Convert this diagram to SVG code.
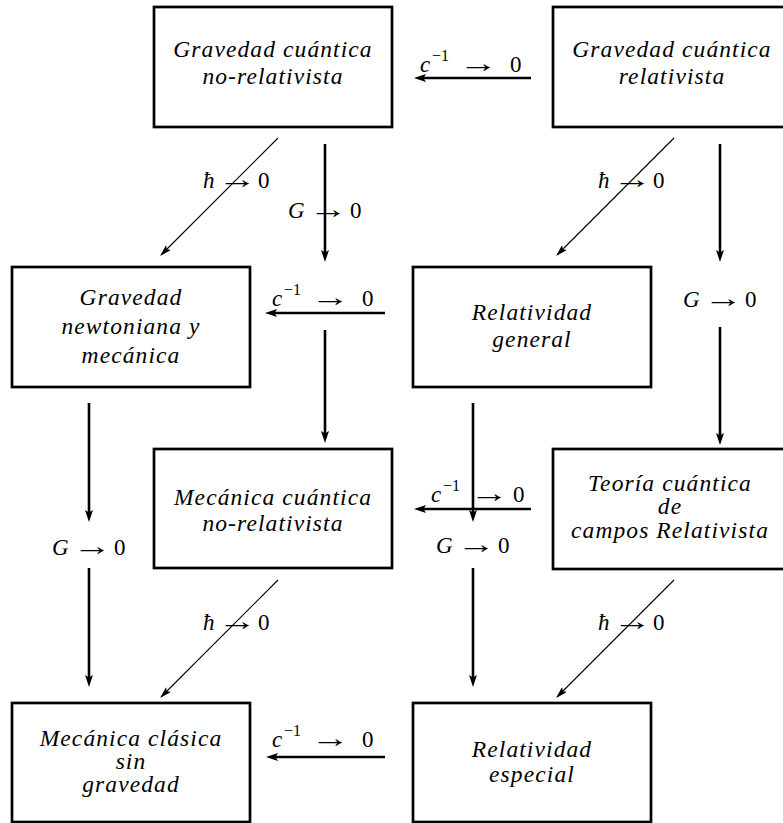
<svg xmlns="http://www.w3.org/2000/svg" width="783" height="823" viewBox="0 0 783 823">
<style>
.box{fill:#fff;stroke:#000;stroke-width:2.7}
.nt{font-family:'Liberation Serif';font-style:italic;font-size:23.5px;letter-spacing:1.1px;text-anchor:middle;fill:#000}
.m{font-family:'Liberation Serif';font-size:23px;fill:#000}
.mi{font-style:italic}
.sup{font-size:16px}
.ar{font-size:26px}
.thick{stroke:#000;stroke-width:2.6;fill:none;marker-end:url(#ah)}
.thin{stroke:#000;stroke-width:1.1;fill:none;marker-end:url(#ahs)}
</style>
<defs>
<marker id="ah" viewBox="0 0 12 8" refX="6" refY="4" markerWidth="12" markerHeight="8" markerUnits="userSpaceOnUse" orient="auto">
<path d="M0,0 L12,4 L0,8 L2.5,4 Z" fill="#000"/>
</marker>
<marker id="ahs" viewBox="0 0 12 7" refX="10" refY="3.5" markerWidth="12" markerHeight="7" markerUnits="userSpaceOnUse" orient="auto">
<path d="M0,0 L12,3.5 L0,7 L2.5,3.5 Z" fill="#000"/>
</marker>
</defs>
<rect width="783" height="823" fill="#fff"/>

<g font-family="'Liberation Serif'">
<g id="n1"><rect class="box" x="154" y="7" width="238" height="120"/>
<text class="nt" x="273" y="57" font-family="'Liberation Serif'">Gravedad cuántica</text>
<text class="nt" x="273" y="84" font-family="'Liberation Serif'">no-relativista</text></g>

<g id="n2"><rect class="box" x="553" y="7" width="238" height="120"/>
<text class="nt" x="672" y="57" font-family="'Liberation Serif'">Gravedad cuántica</text>
<text class="nt" x="672" y="84" font-family="'Liberation Serif'">relativista</text></g>

<g id="n3"><rect class="box" x="12" y="267" width="238" height="120"/>
<text class="nt" x="131" y="305" font-family="'Liberation Serif'">Gravedad</text>
<text class="nt" x="131" y="334" font-family="'Liberation Serif'">newtoniana y</text>
<text class="nt" x="131" y="363" font-family="'Liberation Serif'">mecánica</text></g>

<g id="n4"><rect class="box" x="413" y="267" width="238" height="120"/>
<text class="nt" x="532" y="320" font-family="'Liberation Serif'">Relatividad</text>
<text class="nt" x="532" y="347" font-family="'Liberation Serif'">general</text></g>

<g id="n5"><rect class="box" x="154" y="449" width="238" height="119"/>
<text class="nt" x="273" y="505" font-family="'Liberation Serif'">Mecánica cuántica</text>
<text class="nt" x="273" y="531" font-family="'Liberation Serif'">no-relativista</text></g>

<g id="n6"><rect class="box" x="553" y="449" width="238" height="120"/>
<text class="nt" x="670" y="491" font-family="'Liberation Serif'">Teoría cuántica</text>
<text class="nt" x="670" y="514" font-family="'Liberation Serif'">de</text>
<text class="nt" x="670" y="538" font-family="'Liberation Serif'">campos Relativista</text></g>

<g id="n7"><rect class="box" x="12" y="703" width="238" height="119"/>
<text class="nt" x="131" y="746" font-family="'Liberation Serif'">Mecánica clásica</text>
<text class="nt" x="131" y="769" font-family="'Liberation Serif'">sin</text>
<text class="nt" x="131" y="792" font-family="'Liberation Serif'">gravedad</text></g>

<g id="n8"><rect class="box" x="413" y="703" width="238" height="119"/>
<text class="nt" x="532" y="757" font-family="'Liberation Serif'">Relatividad</text>
<text class="nt" x="532" y="782" font-family="'Liberation Serif'">especial</text></g>

<g id="connectors">
<line class="thick" x1="531" y1="78" x2="420" y2="78"/>
<line class="thick" x1="385" y1="313" x2="271" y2="313"/>
<line class="thick" x1="531" y1="509" x2="420" y2="509"/>
<line class="thick" x1="385" y1="757" x2="272" y2="757"/>
<line class="thick" x1="325" y1="144" x2="325" y2="256"/>
<line class="thick" x1="720" y1="144" x2="720" y2="256"/>
<line class="thick" x1="720" y1="327" x2="720" y2="439"/>
<line class="thick" x1="325" y1="330" x2="325" y2="437"/>
<line class="thick" x1="89" y1="403" x2="89" y2="516"/>
<line class="thick" x1="89" y1="568" x2="89" y2="681"/>
<line class="thick" x1="473" y1="403" x2="473" y2="516"/>
<line class="thick" x1="473" y1="568" x2="473" y2="681"/>
<line class="thin" x1="278" y1="138" x2="161.5" y2="254.5"/>
<line class="thin" x1="674" y1="138" x2="557.5" y2="254.5"/>
<line class="thin" x1="278" y1="580" x2="161.5" y2="696.5"/>
<line class="thin" x1="674" y1="580" x2="557.5" y2="696.5"/>
</g>

<g id="labels">
<text class="m" font-family="'Liberation Serif'" x="420" y="72"><tspan class="mi">c</tspan><tspan class="sup" x="432" y="61">−1</tspan><tspan class="ar" x="459" y="72" textLength="39" lengthAdjust="spacingAndGlyphs">→</tspan><tspan x="510" y="72">0</tspan></text>
<text class="m" font-family="'Liberation Serif'" x="272" y="306"><tspan class="mi">c</tspan><tspan class="sup" x="284" y="295">−1</tspan><tspan class="ar" x="311" y="306" textLength="39" lengthAdjust="spacingAndGlyphs">→</tspan><tspan x="362" y="306">0</tspan></text>
<text class="m" font-family="'Liberation Serif'" x="431" y="502"><tspan class="mi">c</tspan><tspan class="sup" x="443" y="491">−1</tspan><tspan class="ar" x="470" y="502" textLength="39" lengthAdjust="spacingAndGlyphs">→</tspan><tspan x="513" y="502">0</tspan></text>
<text class="m" font-family="'Liberation Serif'" x="272" y="747"><tspan class="mi">c</tspan><tspan class="sup" x="284" y="736">−1</tspan><tspan class="ar" x="311" y="747" textLength="39" lengthAdjust="spacingAndGlyphs">→</tspan><tspan x="362" y="747">0</tspan></text>

<text class="m" font-family="'Liberation Serif'" x="203" y="188"><tspan class="mi">ħ</tspan><tspan class="ar" x="218" textLength="39" lengthAdjust="spacingAndGlyphs">→</tspan><tspan x="258">0</tspan></text>
<text class="m" font-family="'Liberation Serif'" x="598" y="188"><tspan class="mi">ħ</tspan><tspan class="ar" x="613" textLength="39" lengthAdjust="spacingAndGlyphs">→</tspan><tspan x="653">0</tspan></text>
<text class="m" font-family="'Liberation Serif'" x="203" y="630"><tspan class="mi">ħ</tspan><tspan class="ar" x="218" textLength="39" lengthAdjust="spacingAndGlyphs">→</tspan><tspan x="258">0</tspan></text>
<text class="m" font-family="'Liberation Serif'" x="598" y="630"><tspan class="mi">ħ</tspan><tspan class="ar" x="613" textLength="39" lengthAdjust="spacingAndGlyphs">→</tspan><tspan x="653">0</tspan></text>

<text class="m" font-family="'Liberation Serif'" x="288" y="218"><tspan class="mi">G</tspan><tspan class="ar" x="309" textLength="39" lengthAdjust="spacingAndGlyphs">→</tspan><tspan x="350">0</tspan></text>
<text class="m" font-family="'Liberation Serif'" x="683" y="307"><tspan class="mi">G</tspan><tspan class="ar" x="704" textLength="39" lengthAdjust="spacingAndGlyphs">→</tspan><tspan x="745">0</tspan></text>
<text class="m" font-family="'Liberation Serif'" x="52" y="555"><tspan class="mi">G</tspan><tspan class="ar" x="73" textLength="39" lengthAdjust="spacingAndGlyphs">→</tspan><tspan x="114">0</tspan></text>
<text class="m" font-family="'Liberation Serif'" x="436" y="553"><tspan class="mi">G</tspan><tspan class="ar" x="457" textLength="39" lengthAdjust="spacingAndGlyphs">→</tspan><tspan x="498">0</tspan></text>
</g>
</g>
</svg>
